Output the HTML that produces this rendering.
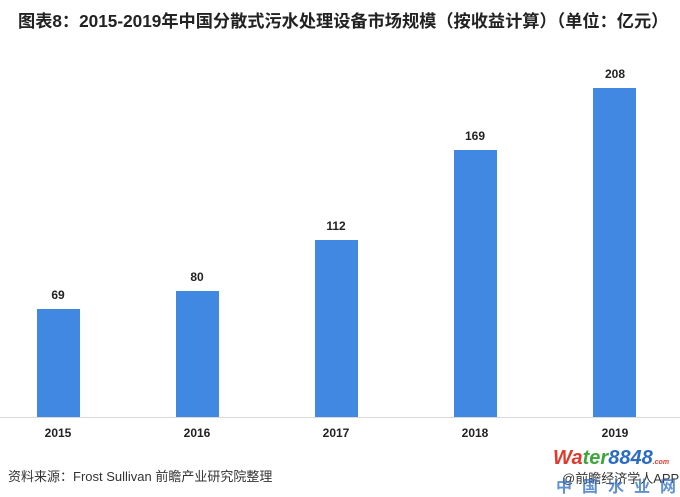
<!DOCTYPE html>
<html><head><meta charset="utf-8"><style>
body{margin:0;width:680px;height:496px;background:#fff;position:relative;overflow:hidden;font-family:"Liberation Sans","Noto Sans CJK SC",sans-serif}
.t{position:absolute;left:18px;top:7px;font-size:17.2px;font-weight:bold;color:#222;white-space:nowrap}
.b{position:absolute;background:#4188e2;width:43px}
.v{position:absolute;width:60px;text-align:center;font-size:12px;font-weight:bold;color:#222}
.x{position:absolute;top:426px;width:60px;text-align:center;font-size:12px;font-weight:bold;color:#222}
.ax{position:absolute;left:0;top:417px;width:680px;height:1px;background:#d9d9d9}
.s{position:absolute;left:8px;top:466px;font-size:13px;color:#333}
</style></head><body>
<div class="t">图表8：2015-2019年中国分散式污水处理设备市场规模（按收益计算）（单位：亿元）</div>
<div class="b" style="left:37px;top:309px;height:108px"></div>
<div class="b" style="left:176px;top:291px;height:126px"></div>
<div class="b" style="left:315px;top:240px;height:177px"></div>
<div class="b" style="left:454px;top:150px;height:267px"></div>
<div class="b" style="left:593px;top:88px;height:329px"></div>
<div class="v" style="left:28px;top:288px">69</div>
<div class="v" style="left:167px;top:270px">80</div>
<div class="v" style="left:306px;top:219px">112</div>
<div class="v" style="left:445px;top:129px">169</div>
<div class="v" style="left:585px;top:67px">208</div>
<div class="ax"></div>
<div class="x" style="left:28px">2015</div>
<div class="x" style="left:167px">2016</div>
<div class="x" style="left:306px">2017</div>
<div class="x" style="left:445px">2018</div>
<div class="x" style="left:585px">2019</div>
<div class="s">资料来源：Frost Sullivan 前瞻产业研究院整理</div>
<div style="position:absolute;left:553px;top:447px;font-size:20px;font-weight:bold;font-style:italic;white-space:nowrap"><span style="color:#e03a2e">Wa</span><span style="color:#3ca63c">ter</span><span style="color:#2a6cc4">8848</span><span style="color:#e03a2e;font-size:7px">.com</span></div>
<div style="position:absolute;left:562px;top:468px;font-size:13px;color:#333;white-space:nowrap">@前瞻经济学人APP</div>
<div style="position:absolute;left:556px;top:473px;font-size:16px;font-weight:bold;color:#2a6cc4;opacity:.75;letter-spacing:10px;white-space:nowrap">中国水业网</div>
</body></html>
